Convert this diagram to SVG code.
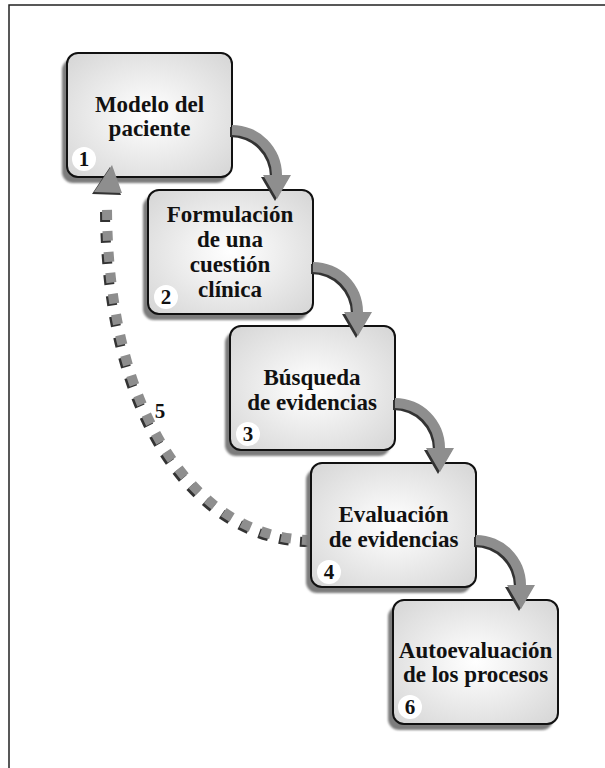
<svg xmlns="http://www.w3.org/2000/svg" xmlns:xlink="http://www.w3.org/1999/xlink" width="605" height="768" viewBox="0 0 605 768">
  <style>
    .frame { fill: none; stroke: #222; stroke-width: 1.5; }
    .shadow { fill: #7c7c7c; }
    .box { fill: url(#boxFill); stroke: #111; stroke-width: 2; }
    .label { font-family: "Liberation Serif", "Times New Roman", serif; font-weight: bold; font-size: 23px; fill: #111; text-anchor: middle; }
    .badge { fill: #fff; }
    .num { font-family: "Liberation Serif", "Times New Roman", serif; font-weight: bold; font-size: 21px; fill: #111; text-anchor: middle; }
    .arrow { fill: #8e8e8e; }
    .arrow-shadow { fill: #333; }
    .dots { fill: none; stroke: #8e8e8e; stroke-width: 10; stroke-dasharray: 10 11; }
    .dots-shadow { fill: none; stroke: #333; stroke-width: 10; stroke-dasharray: 10 11; }
  </style>
  <defs>
    <radialGradient id="boxFill" cx="0.5" cy="0.5" r="0.65">
      <stop offset="0" stop-color="#ffffff"/>
      <stop offset="0.25" stop-color="#f6f6f6"/>
      <stop offset="1" stop-color="#d8d8d8"/>
    </radialGradient>
    <filter id="soft" x="-10%" y="-10%" width="120%" height="120%">
      <feGaussianBlur stdDeviation="0.8"/>
    </filter>
    <!-- curved step arrow, drawn relative to the first box -->
    <path id="stepArrow" d="M232,125 A50,50 0 0 1 282,175 L291,175 L277,199 L263,175 L272,175 A40,40 0 0 0 232,135 Z"/>
    <!-- rounded node outline used for the drop shadow -->
    <rect id="nodeShadow" x="0" y="0" width="165" height="124" rx="11"/>
  </defs>

  <!-- page frame -->
  <path class="frame" d="M9,768 V5 H605"/>

  <!-- dashed feedback path (under the boxes) -->
  <g id="connectors-back">
    <path class="dots-shadow" transform="translate(-2,2)" d="M312,540 C200,540 107,420 107,205"/>
    <path class="dots" d="M312,540 C200,540 107,420 107,205"/>
  </g>

  <g id="node1">
    <use href="#nodeShadow" class="shadow" filter="url(#soft)" x="62" y="59"/>
    <rect class="box" x="67" y="53" width="165" height="124" rx="11"/>
    <text class="label" x="149.5" y="112">Modelo del</text>
    <text class="label" x="149.5" y="136">paciente</text>
    <circle class="badge" cx="84" cy="159" r="12"/>
    <text class="num" x="84" y="166">1</text>
  </g>

  <g id="node2">
    <use href="#nodeShadow" class="shadow" filter="url(#soft)" x="143" y="196"/>
    <rect class="box" x="148" y="190" width="165" height="124" rx="11"/>
    <text class="label" x="230" y="222">Formulación</text>
    <text class="label" x="230" y="247">de una</text>
    <text class="label" x="230" y="272">cuestión</text>
    <text class="label" x="230" y="297">clínica</text>
    <circle class="badge" cx="166" cy="297" r="12"/>
    <text class="num" x="166" y="304">2</text>
  </g>

  <g id="node3">
    <use href="#nodeShadow" class="shadow" filter="url(#soft)" x="225" y="332"/>
    <rect class="box" x="230" y="326" width="165" height="124" rx="11"/>
    <text class="label" x="312" y="385">Búsqueda</text>
    <text class="label" x="312" y="410">de evidencias</text>
    <circle class="badge" cx="248" cy="434" r="12"/>
    <text class="num" x="248" y="441">3</text>
  </g>

  <g id="node4">
    <use href="#nodeShadow" class="shadow" filter="url(#soft)" x="306" y="469"/>
    <rect class="box" x="311" y="463" width="165" height="124" rx="11"/>
    <text class="label" x="393.5" y="522">Evaluación</text>
    <text class="label" x="393.5" y="547">de evidencias</text>
    <circle class="badge" cx="329" cy="572" r="12"/>
    <text class="num" x="329" y="579">4</text>
  </g>

  <g id="node6">
    <use href="#nodeShadow" class="shadow" filter="url(#soft)" x="388" y="606"/>
    <rect class="box" x="393" y="600" width="165" height="124" rx="11"/>
    <text class="label" x="475.5" y="658">Autoevaluación</text>
    <text class="label" x="475.5" y="682">de los procesos</text>
    <circle class="badge" cx="410" cy="707" r="12"/>
    <text class="num" x="410" y="714">6</text>
  </g>

  <!-- step arrows and feedback arrowhead -->
  <g id="connectors">
    <use href="#stepArrow" class="arrow-shadow" transform="translate(-2,2)"/>
    <use href="#stepArrow" class="arrow"/>
    <use href="#stepArrow" class="arrow-shadow" transform="translate(79,139)"/>
    <use href="#stepArrow" class="arrow" transform="translate(81,137)"/>
    <use href="#stepArrow" class="arrow-shadow" transform="translate(161,275)"/>
    <use href="#stepArrow" class="arrow" transform="translate(163,273)"/>
    <use href="#stepArrow" class="arrow-shadow" transform="translate(242,412)"/>
    <use href="#stepArrow" class="arrow" transform="translate(244,410)"/>
    <polygon class="arrow-shadow" points="110,167 92,194 121,195"/>
    <polygon class="arrow" points="112,165 94,192 122,193"/>
    <text class="num" x="160" y="418">5</text>
  </g>
</svg>
